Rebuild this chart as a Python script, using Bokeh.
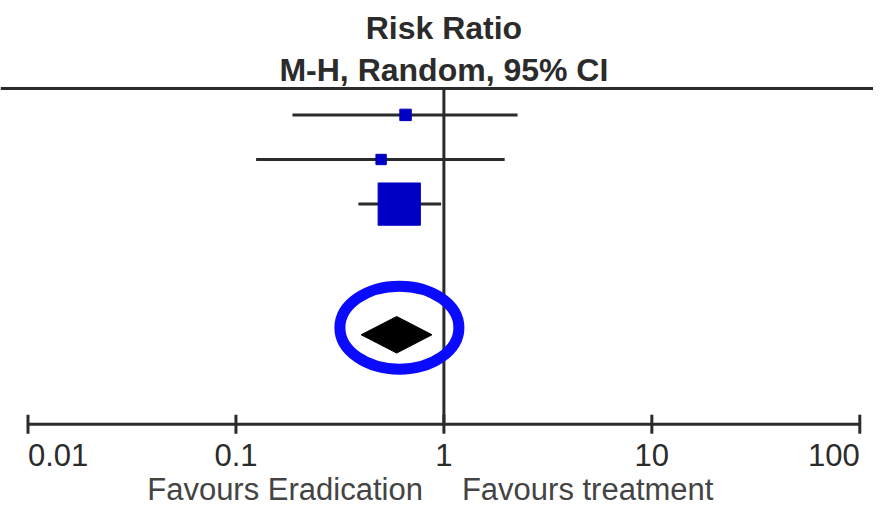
import math
from bokeh.plotting import figure
from bokeh.models import Range1d, Span, ColumnDataSource
from bokeh.core.properties import value
from bokeh.embed import file_html
from bokeh.resources import INLINE

# ---- data ----
study_rr = [0.654, 0.499, 0.61]
study_lo = [0.187, 0.125, 0.388]
study_hi = [2.26, 1.96, 0.97]
study_row = [1, 2, 3]
study_weight = [6.5, 5.3, 88.2]

total_rr = 0.593
total_lo = 0.40
total_hi = 0.877
total_row = 5.93

tick_values = [0.01, 0.1, 1, 10, 100]
tick_labels = ["0.01", "0.1", "1", "10", "100"]

title_lines = ["Risk Ratio", "M-H, Random, 95% CI"]
title_rows = [-0.957, 0.0]
header_row = 0.41
axis_row = 7.935
favours_labels = ["Favours Eradication", "Favours treatment"]

FONT = "Liberation Sans"
DARK = "#2b2b2b"

p = figure(width=873, height=508, x_axis_type="log",
           x_range=Range1d(10 ** -2.1322, 10 ** 2.0659),
           y_range=Range1d(9.825, -1.565),
           output_backend="svg", toolbar_location=None,
           min_border=0, x_axis_location=None, y_axis_location=None)
p.outline_line_color = None
p.grid.visible = False
p.background_fill_color = "white"
p.border_fill_color = "white"

# ---- risk-ratio scale (log axis) ----
p.line(x=tick_values, y=[axis_row] * len(tick_values), line_color=DARK, line_width=3)
p.scatter(x=tick_values, y=[axis_row] * len(tick_values), marker="dash",
          angle=math.pi / 2, size=19, line_color=DARK, line_width=3)
aligns = ["left"] + ["center"] * (len(tick_labels) - 2) + ["right"]
p.text(x=tick_values, y=[axis_row] * len(tick_values), text=tick_labels,
       text_align=aligns, text_baseline="middle", y_offset=31,
       text_font=value(FONT), text_font_size="31px", text_color=DARK)

# favours captions either side of the line of no effect
p.text(x=[1, 1], y=[axis_row, axis_row], text=favours_labels,
       x_offset=[-21, 18], y_offset=65, text_align=["right", "left"],
       text_baseline="middle", text_font=value(FONT), text_font_size="31px",
       text_color="#444444")

# header line
p.add_layout(Span(location=header_row, dimension="width", line_color=DARK, line_width=3))

# line of no effect
p.segment(x0=[1], y0=[header_row], x1=[1], y1=[axis_row],
          line_color=DARK, line_width=3)

# titles
p.text(x=[1, 1], y=title_rows, text=title_lines, text_font=value(FONT),
       text_font_size="32px", text_font_style="bold", text_color=DARK,
       text_align="center", text_baseline="middle")

# study CIs
src = ColumnDataSource(dict(rr=study_rr, lo=study_lo, hi=study_hi, y=study_row,
                            size=[4.5 * w ** 0.5 for w in study_weight]))
p.segment(x0="lo", y0="y", x1="hi", y1="y", source=src, line_color=DARK, line_width=3)
p.scatter(x="rr", y="y", size="size", marker="square", source=src,
          fill_color="#0000c4", line_color="#0000c4")

# total diamond
h = 0.41
p.patch(x=[total_lo, total_rr, total_hi, total_rr],
        y=[total_row, total_row - h, total_row, total_row + h],
        fill_color="black", line_color="black", line_width=1)

# highlight ellipse
p.ellipse(x=[0.611], y=[5.77], width=119, height=83,
          width_units="screen", height_units="screen",
          fill_color=None, line_color="#0a0aff", line_width=11)

open("out.html", "w").write(file_html(p, INLINE))
